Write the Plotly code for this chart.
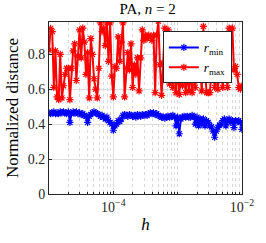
import numpy as np
import plotly.graph_objects as go

# step size h (log-spaced grid, 1e-5 .. 1e-2)
log10_h = np.linspace(-5, -2, 121)
h = 10 ** log10_h

r_min = [0.465, 0.46, 0.465, 0.47, 0.46, 0.465, 0.46, 0.47, 0.465, 0.47,
         0.465, 0.46, 0.47, 0.41, 0.46, 0.47, 0.465, 0.47, 0.46, 0.465,
         0.455, 0.46, 0.45, 0.445, 0.41, 0.445, 0.455, 0.465, 0.47, 0.465,
         0.46, 0.455, 0.445, 0.45, 0.44, 0.43, 0.44, 0.42, 0.41, 0.40,
         0.365, 0.39, 0.40, 0.42, 0.415, 0.43, 0.45, 0.455, 0.45, 0.445,
         0.455, 0.45, 0.445, 0.45, 0.44, 0.455, 0.45, 0.445, 0.455, 0.45,
         0.455, 0.45, 0.46, 0.465, 0.46, 0.465, 0.455, 0.46, 0.45, 0.445,
         0.44, 0.44, 0.435, 0.44, 0.445, 0.44, 0.445, 0.45, 0.44, 0.39,
         0.44, 0.345, 0.43, 0.44, 0.445, 0.44, 0.445, 0.44, 0.44, 0.45,
         0.445, 0.40, 0.44, 0.39, 0.43, 0.40, 0.43, 0.39, 0.42, 0.41,
         0.39, 0.385, 0.36, 0.325, 0.36, 0.38, 0.395, 0.40, 0.42, 0.43,
         0.39, 0.42, 0.43, 0.41, 0.42, 0.38, 0.42, 0.415, 0.42, 0.41,
         0.37]

r_max = [0.824, 0.948, 0.93, 0.61, 0.82, 0.556, 0.54, 0.80, 0.55, 0.62,
         0.685, 0.72, 0.72, 0.54, 0.72, 0.82, 0.86, 0.65, 0.79, 0.94,
         0.78, 0.95, 0.87, 0.685, 0.81, 0.55, 0.89, 0.80, 0.66, 0.60,
         0.55, 0.72, 0.98, 0.93, 0.95, 0.85, 0.98, 0.76, 0.98, 0.675,
         0.556, 0.73, 0.72, 0.90, 0.76, 0.87, 0.98, 0.556, 0.72, 0.81,
         0.71, 0.86, 0.61, 0.74, 0.685, 0.78, 0.59, 0.78, 0.94, 0.88,
         0.91, 0.89, 0.91, 0.90, 0.88, 0.91, 0.58, 0.91, 0.99, 0.74,
         0.565, 0.75, 0.95, 0.67, 0.94, 0.63, 0.70, 0.61, 0.72, 0.58,
         0.74, 0.57, 0.71, 0.62, 0.72, 0.58, 0.70, 0.59, 0.71, 0.58,
         0.70, 0.61, 0.72, 0.80, 0.71, 0.59, 0.96, 0.70, 0.58, 0.58,
         0.58, 0.70, 0.70, 0.61, 0.69, 0.60, 0.70, 0.71, 0.61, 0.70,
         0.685, 0.61, 0.95, 0.94, 0.95, 0.71, 0.73, 0.685, 0.61, 0.60,
         0.62]

x_tickvals = [1e-4, 1e-2]
x_ticktext = ["10<sup>\u22124</sup>", "10<sup>\u22122</sup>"]
y_tickvals = [0, 0.2, 0.4, 0.6, 0.8]
y_ticktext = ["0", "0.2", "0.4", "0.6", "0.8"]

FONT = "Liberation Serif, Times New Roman, serif"

fig = go.Figure()
fig.add_trace(go.Scatter(
    x=h, y=r_min, mode="lines+markers", name="<i>r</i><sub>min</sub>",
    line=dict(color="rgb(0,0,255)", width=2),
    marker=dict(symbol="asterisk-open", size=6, line=dict(color="rgb(0,0,255)", width=1.2)),
))
fig.add_trace(go.Scatter(
    x=h, y=r_max, mode="lines+markers", name="<i>r</i><sub>max</sub>",
    line=dict(color="rgb(255,0,0)", width=2),
    marker=dict(symbol="asterisk-open", size=6, line=dict(color="rgb(255,0,0)", width=1.2)),
))

fig.update_layout(
    width=266, height=243,
    margin=dict(l=48, r=18, t=22, b=43),
    paper_bgcolor="white", plot_bgcolor="white",
    font=dict(family=FONT, size=14, color="#262626"),
    title=dict(text="PA, <i>n</i> = 2", x=0.555, xanchor="center", y=0.985, yanchor="top",
               font=dict(family=FONT, size=15, color="black")),
    showlegend=True,
    legend=dict(x=0.59, y=0.945, xanchor="left", yanchor="top",
                bgcolor="white", bordercolor="#262626", borderwidth=1,
                font=dict(family=FONT, size=13, color="black"),
                itemwidth=30, tracegroupgap=0),
)
fig.update_xaxes(
    type="log", range=[-5, -2],
    tickvals=x_tickvals, ticktext=x_ticktext,
    ticks="inside", ticklen=3, tickcolor="#262626",
    ticklabeloverflow="allow",
    showline=True, linecolor="#262626", linewidth=1, mirror=True,
    showgrid=True, gridcolor="#dcdcdc", gridwidth=1,
    minor=dict(dtick="D1", showgrid=True, gridcolor="#d8d8d8", griddash="dot",
               ticks="inside", ticklen=2, tickcolor="#262626"),
    title=dict(text="<i>h</i>", font=dict(family=FONT, size=17, color="black"), standoff=4),
    zeroline=False,
)
fig.update_yaxes(
    range=[0, 0.985],
    tickvals=y_tickvals, ticktext=y_ticktext,
    ticks="inside", ticklen=3, tickcolor="#262626",
    showline=True, linecolor="#262626", linewidth=1, mirror=True,
    showgrid=True, gridcolor="#dcdcdc", gridwidth=1,
    title=dict(text="Normalized distance", font=dict(family=FONT, size=17, color="black"), standoff=4),
    zeroline=False,
)

fig.write_html("out.html", config={"displayModeBar": False},
               post_script="document.body.style.margin='0';")
